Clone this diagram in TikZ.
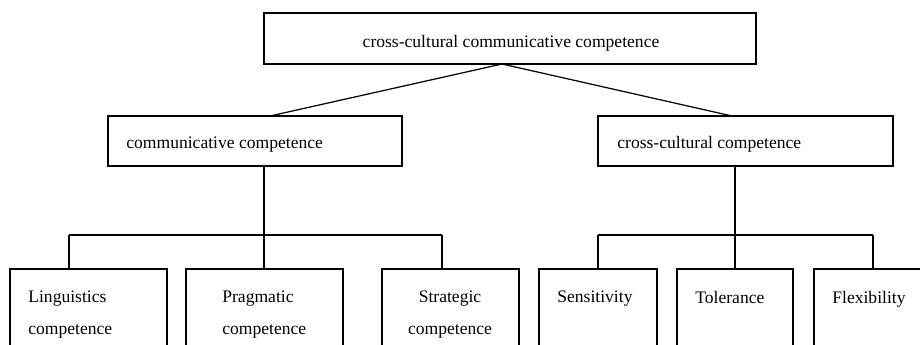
\documentclass[tikz,border=0pt]{standalone}
\usepackage{fontspec}
\setmainfont{Liberation Serif}
\newcommand\px{0.02cm}
\tikzset{
  box/.style={draw,line width=1.1pt,inner sep=0pt,outer sep=0pt},
  lbl/.style={inner sep=0pt,font=\fontsize{10}{18}\selectfont},
  tree/.style={line width=1.1pt},
  slant/.style={line width=0.7pt}
}

\begin{document}
\begin{tikzpicture}[x=\px,y=-\px]
\useasboundingbox (0,0) rectangle (920,345);
\clip (0,0) rectangle (920,345);

% boxes
\node[box,minimum width=492*\px,minimum height=51*\px](top) at (510,38.5) {};
\node[box,minimum width=294*\px,minimum height=50*\px](comm) at (255,141) {};
\node[box,minimum width=295*\px,minimum height=50*\px](cross) at (745.5,141) {};
\node[box,minimum width=157*\px,minimum height=101*\px](ling) at (88.5,319.5) {};
\node[box,minimum width=157*\px,minimum height=101*\px](prag) at (264.5,319.5) {};
\node[box,minimum width=137*\px,minimum height=101*\px](strat) at (450.5,319.5) {};
\node[box,minimum width=118*\px,minimum height=101*\px](sens) at (598,319.5) {};
\node[box,minimum width=116*\px,minimum height=101*\px](tol) at (735,319.5) {};
\node[box,minimum width=118*\px,minimum height=101*\px](flex) at (873,319.5) {};

% texts
\node[lbl,anchor=base](top-t) at (511,47) {cross-cultural communicative competence};
\node[lbl,anchor=base west](comm-t) at (126,148) {communicative competence};
\node[lbl,anchor=base west](cross-t) at (617,148) {cross-cultural competence};
\node[lbl,anchor=north west,align=left](ling-t) at (28,291) {Linguistics\\competence};
\node[lbl,anchor=north west,align=left](prag-t) at (222,291) {Pragmatic\\competence};
\node[lbl,anchor=north,align=center](strat-t) at (450,291) {Strategic\\competence};
\node[lbl,anchor=north west](sens-t) at (557,291) {Sensitivity};
\node[lbl,anchor=north west](tol-t) at (695,291) {Tolerance};
\node[lbl,anchor=north west](flex-t) at (832,291) {Flexibility};

% top level links
\coordinate (apex) at (502,64);
\coordinate (comm-in) at (270,116);
\coordinate (cross-in) at (732,116);
\draw[slant] (apex) -- (comm-in);
\draw[slant] (apex) -- (cross-in);

% left branch
\coordinate (cj) at (264,235);
\coordinate (lj) at (69,235);
\coordinate (sj) at (442,235);
\draw[tree] (cj |- comm.south) -- (cj |- prag.north);
\draw[tree] (lj) -- (sj);
\draw[tree] (lj) -- (lj |- ling.north);
\draw[tree] (sj) -- (sj |- strat.north);

% right branch
\coordinate (rj) at (735,235);
\draw[tree] (cross.south -| tol.north) -- (tol.north);
\draw[tree] (sens.north |- rj) -- (flex.north |- rj);
\draw[tree] (sens.north |- rj) -- (sens.north);
\draw[tree] (flex.north |- rj) -- (flex.north);
\end{tikzpicture}
\end{document}
